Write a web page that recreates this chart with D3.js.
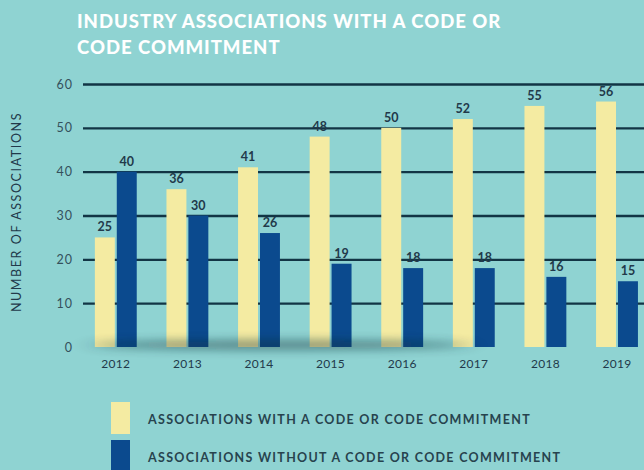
<!DOCTYPE html>
<html>
<head>
<meta charset="utf-8">
<script src="https://cdn.jsdelivr.net/npm/d3@7"></script>
<style>
  body { margin: 0; background: #8fd3d2; }
  svg { display: block; }
</style>
</head>
<body>
<div id="viz"></div>
<script>
// data
var years = ['2012', '2013', '2014', '2015', '2016', '2017', '2018', '2019'];
var withCode = [25, 36, 41, 48, 50, 52, 55, 56];
var withoutCode = [40, 30, 26, 19, 18, 18, 16, 15];
var seriesNames = ['ASSOCIATIONS WITH A CODE OR CODE COMMITMENT',
                   'ASSOCIATIONS WITHOUT A CODE OR CODE COMMITMENT'];
var yTicks = [0, 10, 20, 30, 40, 50, 60];

var W = 644, H = 470;
var margin = {top: 84, left: 83, bottom: 123};
var plotBottom = H - margin.bottom;

var colors = ['#f4eba2', '#0b4a8e'];
var ink = '#22394a';

var svg = d3.select('#viz').append('svg')
    .attr('width', W)
    .attr('height', H)
    .style('font-family', 'Lato, "Open Sans", sans-serif');

svg.append('rect').attr('width', W).attr('height', H).attr('fill', '#8fd3d2');

// title
var title = svg.append('text')
    .attr('x', 77)
    .attr('fill', '#ffffff')
    .style('font-size', '18.5px')
    .style('font-weight', 900)
    .style('letter-spacing', '1px');
title.append('tspan').attr('x', 77).attr('y', 28).text('INDUSTRY ASSOCIATIONS WITH A CODE OR');
title.append('tspan').attr('x', 77).attr('y', 54).text('CODE COMMITMENT');

// scales
var x0 = d3.scaleBand()
    .domain(years)
    .range([80, 80 + 71.6 * years.length])
    .paddingInner(0.36)
    .paddingOuter(0.18);

var x1 = d3.scaleBand()
    .domain([0, 1])
    .range([0, x0.bandwidth()])
    .padding(0.09);

var y = d3.scaleLinear()
    .domain([0, 60])
    .range([plotBottom, margin.top]);

// grid lines via axis
var yAxis = d3.axisLeft(y)
    .tickValues(yTicks)
    .tickSize(-(W - margin.left))
    .tickPadding(10);

var yGuide = svg.append('g')
    .attr('transform', 'translate(' + margin.left + ',0)')
    .call(yAxis);
yGuide.select('.domain').remove();
yGuide.selectAll('.tick line')
    .attr('stroke', '#123545')
    .attr('stroke-width', 2.4)
    .filter(function(d) { return d === 0; }).remove();
yGuide.selectAll('.tick text')
    .attr('fill', '#34505c')
    .style('font-size', '12.5px')
    .style('letter-spacing', '1px')
    .style('font-family', 'Lato, sans-serif');

// bars
var rows = years.map(function(yr, i) {
  return {year: yr, values: [withCode[i], withoutCode[i]]};
});

var groups = svg.append('g').selectAll('g')
    .data(rows)
    .join('g')
    .attr('transform', function(d) { return 'translate(' + x0(d.year) + ',0)'; });

groups.selectAll('rect')
    .data(function(d) { return d.values; })
    .join('rect')
    .attr('x', function(d, i) { return x1(i); })
    .attr('y', function(d) { return y(d); })
    .attr('width', x1.bandwidth())
    .attr('height', function(d) { return plotBottom - y(d); })
    .attr('fill', function(d, i) { return colors[i]; });

groups.selectAll('text')
    .data(function(d) { return d.values; })
    .join('text')
    .attr('x', function(d, i) { return x1(i) + x1.bandwidth() / 2; })
    .attr('y', function(d) { return y(d) - 6; })
    .attr('text-anchor', 'middle')
    .attr('fill', ink)
    .style('font-size', '12.5px')
    .style('font-weight', 700)
    .text(function(d) { return d; });

// soft shadow along the baseline
var defs = svg.append('defs');
defs.append('filter').attr('id', 'blur')
    .attr('x', '-20%').attr('y', '-200%').attr('width', '140%').attr('height', '500%')
    .append('feGaussianBlur').attr('stdDeviation', '12 5');
svg.append('ellipse')
    .attr('cx', 280)
    .attr('cy', plotBottom - 2)
    .attr('rx', 190)
    .attr('ry', 5)
    .attr('fill', '#0b2a33')
    .attr('opacity', 0.45)
    .attr('filter', 'url(#blur)');

// x axis labels
var xAxis = d3.axisBottom(x0).tickSize(0).tickPadding(12);
var xGuide = svg.append('g')
    .attr('transform', 'translate(0,' + plotBottom + ')')
    .call(xAxis);
xGuide.select('.domain').remove();
xGuide.selectAll('.tick text')
    .attr('fill', ink)
    .style('font-size', '12px')
    .style('letter-spacing', '0.3px')
    .style('font-family', 'Lato, sans-serif');

// y axis title
svg.append('text')
    .attr('transform', 'translate(21,' + 212 + ') rotate(-90)')
    .attr('text-anchor', 'middle')
    .attr('fill', ink)
    .style('font-size', '12.5px')
    .style('letter-spacing', '1.6px')
    .text('NUMBER OF ASSOCIATIONS');

// legend
var legend = svg.append('g').selectAll('g')
    .data(seriesNames)
    .join('g')
    .attr('transform', function(d, i) { return 'translate(111,' + (402 + i * 38) + ')'; });
legend.append('rect')
    .attr('width', 19)
    .attr('height', 32)
    .attr('fill', function(d, i) { return colors[i]; });
legend.append('text')
    .attr('x', 37)
    .attr('y', 22)
    .attr('fill', '#27434e')
    .style('font-size', '12.5px')
    .style('font-weight', 700)
    .style('letter-spacing', '1.3px')
    .text(function(d) { return d; });
</script>
</body>
</html>
